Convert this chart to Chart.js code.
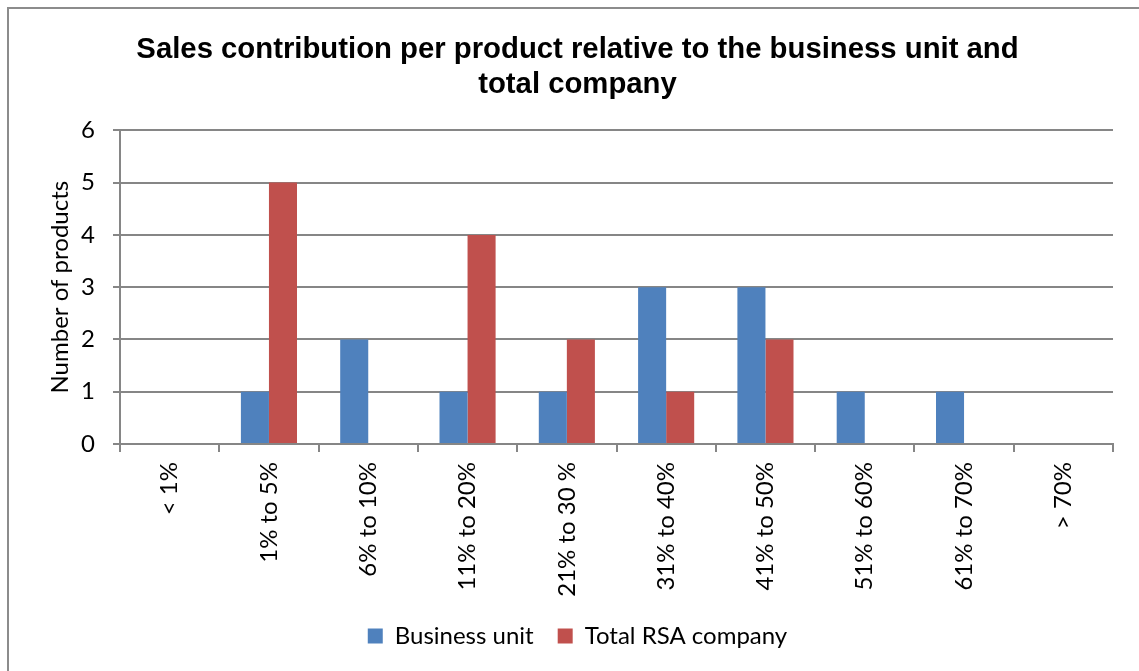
<!DOCTYPE html>
<html>
<head>
<meta charset="utf-8">
<script src="https://cdn.jsdelivr.net/npm/chart.js@4.4.0/dist/chart.umd.min.js"></script>
<style>
    html, body { margin: 0; padding: 0; background: #fff; overflow: hidden; }
    #frame {
        position: absolute; left: 7px; top: 7px;
        width: 1200px; height: 720px;
        border: 2px solid #8c8c8c;
    }
    #wrap { position: absolute; left: 0; top: 0; width: 1139px; height: 671px; }
</style>
</head>
<body>
<div id="frame"></div>
<div id="wrap"><canvas id="chart" width="1139" height="671"></canvas></div>
<script>
// Категории и значения
const categories = ['< 1%', '1% to 5%', '6% to 10%', '11% to 20%', '21% to 30 %',
                    '31% to 40%', '41% to 50%', '51% to 60%', '61% to 70%', '> 70%'];
const businessUnit = [0, 1, 2, 1, 1, 3, 3, 1, 1, 0];
const totalCompany = [0, 5, 0, 4, 2, 1, 2, 0, 0, 0];
const yTicks = [0, 1, 2, 3, 4, 5, 6];

const bodyFont = 'Lato, "Open Sans", sans-serif';
const gridColor = '#868686';

const ctx = document.getElementById('chart').getContext('2d');

new Chart(ctx, {
    type: 'bar',
    data: {
        labels: categories,
        datasets: [{
            label: 'Business unit',
            data: businessUnit,
            backgroundColor: '#4F81BD',
            barPercentage: 1,
            categoryPercentage: 0.565
        }, {
            label: 'Total RSA company',
            data: totalCompany,
            backgroundColor: '#C0504D',
            barPercentage: 1,
            categoryPercentage: 0.565
        }]
    },
    options: {
        responsive: false,
        animation: false,
        layout: { padding: { left: 42, right: 26, top: 0, bottom: 13 } },
        plugins: {
            title: {
                display: true,
                text: ['Sales contribution per product relative to the business unit and', 'total company'],
                color: '#000',
                font: { family: '"Liberation Sans", Arial, sans-serif', size: 29.3, weight: 'bold', lineHeight: 1.2 },
                padding: { top: 32, bottom: 28 }
            },
            legend: {
                position: 'bottom',
                labels: {
                    color: '#000',
                    font: { family: bodyFont, size: 24 },
                    boxWidth: 15,
                    boxHeight: 15,
                    padding: 24
                }
            },
            tooltip: { enabled: false }
        },
        scales: {
            x: {
                // фиксированная высота оси, чтобы легенда стояла ближе к подписям
                afterFit: axis => { axis.height = 156; },
                grid: { drawOnChartArea: false, drawTicks: true, tickLength: 8, color: gridColor, lineWidth: 2 },
                border: { color: gridColor, width: 2 },
                ticks: {
                    color: '#000',
                    font: { family: bodyFont, size: 24 },
                    minRotation: 90,
                    maxRotation: 90,
                    padding: 10
                }
            },
            y: {
                min: 0,
                max: 6,
                afterBuildTicks: axis => { axis.ticks = yTicks.map(v => ({ value: v })); },
                afterFit: axis => { axis.width = 78; },
                grid: { color: gridColor, lineWidth: 2, tickLength: 7 },
                border: { color: gridColor, width: 2 },
                ticks: {
                    color: '#000',
                    font: { family: bodyFont, size: 24 },
                    padding: 18
                },
                title: {
                    display: true,
                    text: 'Number of products',
                    color: '#000',
                    font: { family: bodyFont, size: 24 },
                    padding: { top: 4, bottom: 0 }
                }
            }
        }
    }
});
</script>
</body>
</html>
